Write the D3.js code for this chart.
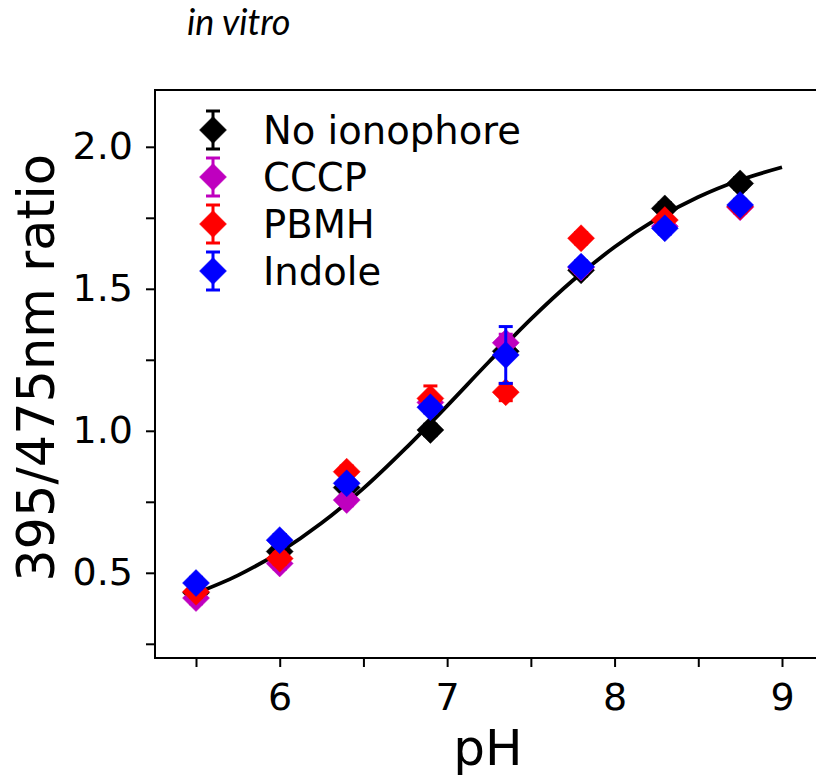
<!DOCTYPE html>
<html lang="en">
<head>
<meta charset="utf-8">
<title>in vitro pH calibration</title>
<script src="https://d3js.org/d3.v7.min.js"></script>
<style>
  body { margin: 0; background: #fff; }
  svg text { font-family: "DejaVu Sans", sans-serif; }
</style>
</head>
<body>
<div id="chart"></div>
<script>
// measured pH values
const phValues = [5.5, 6.0, 6.4, 6.9, 7.35, 7.8, 8.3, 8.75];

const seriesNames = ["No ionophore", "CCCP", "PBMH", "Indole"];
const seriesColors = ["#000000", "#bf00bf", "#ff0000", "#0000ff"];

// 395/475nm ratios
const noIonophore = [0.43, 0.575, 0.80, 1.003, 1.28, 1.565, 1.783, 1.871];
const cccp        = [0.411, 0.533, 0.756, 1.10, 1.31, 1.575, 1.72, 1.787];
const pbmh        = [0.433, 0.55, 0.856, 1.114, 1.136, 1.678, 1.742, 1.79];
const indole      = [0.464, 0.615, 0.815, 1.083, 1.267, 1.578, 1.713, 1.795];

// error bars (sd)
const noIonophoreErr = [0.02, 0.02, 0.02, 0.02, 0.02, 0.02, 0.02, 0.02];
const cccpErr        = [0.02, 0.02, 0.02, 0.02, 0.03, 0.02, 0.02, 0.02];
const pbmhErr        = [0.02, 0.02, 0.02, 0.044, 0.03, 0.02, 0.02, 0.02];
const indoleErr      = [0.02, 0.02, 0.02, 0.02, 0.10, 0.02, 0.02, 0.02];

// fitted curve
const fitPh    = [5.5, 5.75, 6.0, 6.25, 6.5, 6.75, 7.0, 7.25, 7.5, 7.75, 8.0, 8.25, 8.5, 8.75, 9.0];
const fitRatio = [0.428, 0.491, 0.573, 0.675, 0.797, 0.937, 1.088, 1.243, 1.393, 1.529, 1.647, 1.745, 1.823, 1.883, 1.928];

const xTicks = [5.5, 6, 6.5, 7, 7.5, 8, 8.5, 9];
const yTicks = [0.25, 0.5, 0.75, 1.0, 1.25, 1.5, 1.75, 2.0];

const width = 816, height = 776;
const plotLeft = 155, plotTop = 90, plotBottom = 658;

const svg = d3.select("#chart").append("svg")
    .attr("width", width)
    .attr("height", height);

// x axis runs off the right edge of the picture
const x = d3.scaleLinear().domain([5.5, 9.0]).range([196, 782]);
const xMax = 9.3;

const y = d3.scaleLinear().domain([0.2, 2.2]).range([plotBottom, plotTop]);

// title
svg.append("text")
    .attr("x", 187)
    .attr("y", 35)
    .style("font-family", "Lato, sans-serif")
    .attr("font-style", "italic")
    .attr("font-size", 36)
    .text("in vitro");

// axes
const xAxis = d3.axisBottom(x)
    .tickValues(xTicks)
    .tickSize(9)
    .tickPadding(16)
    .tickFormat(d => Number.isInteger(d) ? d3.format("d")(d) : "");

const gx = svg.append("g")
    .attr("transform", `translate(0,${plotBottom})`)
    .call(xAxis);
gx.select(".domain").remove();
gx.selectAll(".tick line").attr("stroke-width", 2);
gx.selectAll("text").attr("font-size", 38).style("font-family", "DejaVu Sans, sans-serif");

const yAxis = d3.axisLeft(y)
    .tickValues(yTicks)
    .tickSize(9)
    .tickPadding(13)
    .tickFormat(d => (Math.round(d * 100) % 50 === 0) ? d3.format(".1f")(d) : "");

const gy = svg.append("g")
    .attr("transform", `translate(${plotLeft},0)`)
    .call(yAxis);
gy.select(".domain").remove();
gy.selectAll(".tick line").attr("stroke-width", 2);
gy.selectAll("text").attr("font-size", 38).style("font-family", "DejaVu Sans, sans-serif");

// frame
svg.append("path")
    .attr("d", `M${x(xMax)},${plotTop}H${plotLeft}V${plotBottom}H${x(xMax)}`)
    .attr("fill", "none")
    .attr("stroke", "#000")
    .attr("stroke-width", 2);

// axis labels
svg.append("text")
    .attr("transform", "translate(54,368) rotate(-90)")
    .attr("text-anchor", "middle")
    .attr("font-size", 51)
    .text("395/475nm ratio");

svg.append("text")
    .attr("x", 488)
    .attr("y", 765)
    .attr("text-anchor", "middle")
    .attr("font-size", 50)
    .text("pH");

// fitted curve
const fitData = fitPh.map((p, i) => ({ph: p, r: fitRatio[i]}));
svg.append("path")
    .datum(fitData)
    .attr("fill", "none")
    .attr("stroke", "#000")
    .attr("stroke-width", 3.8)
    .attr("d", d3.line().x(d => x(d.ph)).y(d => y(d.r)).curve(d3.curveMonotoneX));

// data series
const allValues = [noIonophore, cccp, pbmh, indole];
const allErrs = [noIonophoreErr, cccpErr, pbmhErr, indoleErr];
const half = 13.5;   // diamond half diagonal
const cap = 7;

const diamond = `M0,${-half}L${half},0L0,${half}L${-half},0Z`;

allValues.forEach((vals, s) => {
    const color = seriesColors[s];
    const pts = phValues.map((p, i) => ({ph: p, r: vals[i], e: allErrs[s][i]}));
    const g = svg.append("g").attr("class", "series");

    const eb = g.selectAll(".err")
        .data(pts)
        .enter()
        .append("g")
        .attr("transform", d => `translate(${x(d.ph)},0)`);
    eb.append("line")
        .attr("y1", d => y(d.r - d.e))
        .attr("y2", d => y(d.r + d.e))
        .attr("stroke", color)
        .attr("stroke-width", 3);
    eb.append("line")
        .attr("x1", -cap).attr("x2", cap)
        .attr("y1", d => y(d.r + d.e)).attr("y2", d => y(d.r + d.e))
        .attr("stroke", color).attr("stroke-width", 3);
    eb.append("line")
        .attr("x1", -cap).attr("x2", cap)
        .attr("y1", d => y(d.r - d.e)).attr("y2", d => y(d.r - d.e))
        .attr("stroke", color).attr("stroke-width", 3);

    g.selectAll(".pt")
        .data(pts)
        .enter()
        .append("path")
        .attr("d", diamond)
        .attr("transform", d => `translate(${x(d.ph)},${y(d.r)})`)
        .attr("fill", color)
        .attr("stroke", color)
        .attr("stroke-width", 0.5);
});

// legend
const legend = svg.append("g").attr("transform", "translate(213,130)");
seriesNames.forEach((name, i) => {
    const row = legend.append("g").attr("transform", `translate(0,${i * 47})`);
    const color = seriesColors[i];
    row.append("line").attr("y1", -19).attr("y2", 19).attr("stroke", color).attr("stroke-width", 3);
    row.append("line").attr("x1", -cap).attr("x2", cap).attr("y1", -19).attr("y2", -19).attr("stroke", color).attr("stroke-width", 3);
    row.append("line").attr("x1", -cap).attr("x2", cap).attr("y1", 19).attr("y2", 19).attr("stroke", color).attr("stroke-width", 3);
    row.append("path").attr("d", diamond).attr("fill", color).attr("stroke", color).attr("stroke-width", 0.5);
    row.append("text")
        .attr("x", 50)
        .attr("y", 0)
        .attr("dy", "0.36em")
        .attr("font-size", 38.5)
        .text(name);
});
</script>
</body>
</html>
